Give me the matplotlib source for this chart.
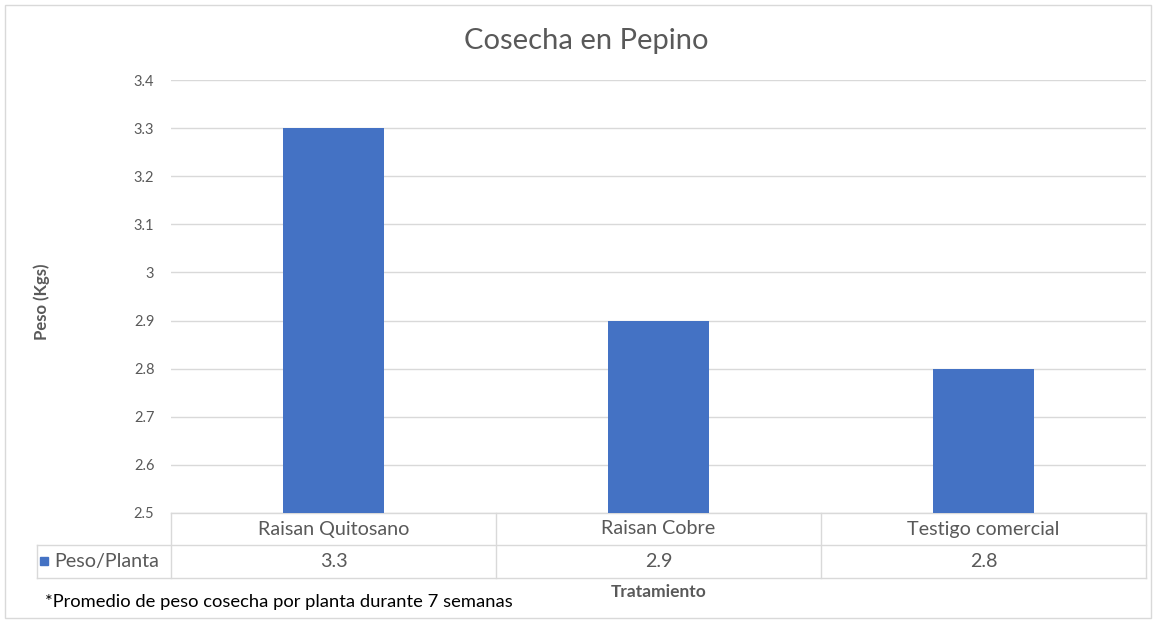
"""Cosecha en Pepino - bar chart with Excel-style data table."""

import matplotlib.pyplot as plt
from matplotlib.patches import Rectangle
import numpy as np

# data
categories = ['Raisan Quitosano', 'Raisan Cobre', 'Testigo comercial']
peso_planta = [3.3, 2.9, 2.8]
series_name = 'Peso/Planta'
y_ticks = [2.5, 2.6, 2.7, 2.8, 2.9, 3.0, 3.1, 3.2, 3.3, 3.4]
y_tick_labels = ['2.5', '2.6', '2.7', '2.8', '2.9', '3', '3.1', '3.2', '3.3', '3.4']

BAR = '#4472C4'
GRID = '#d9d9d9'
TXT = '#595959'

plt.rcParams['font.family'] = ['Lato', 'DejaVu Sans']

W, H = 1156, 623
fig = plt.figure(figsize=(W / 100, H / 100), dpi=100)

# plot area in pixels
left, right, top, bottom = 171, 1146, 80, 513
ax = fig.add_axes([left / W, 1 - bottom / H, (right - left) / W, (bottom - top) / H])

x = np.arange(len(categories))
ax.bar(x, peso_planta, width=0.31, color=BAR, zorder=3)
ax.set_xlim(-0.5, len(categories) - 0.5)
ax.set_ylim(y_ticks[0], y_ticks[-1])
ax.set_yticks(y_ticks)
ax.set_yticklabels(y_tick_labels, color=TXT, fontsize=10.5)
ax.tick_params(axis='y', length=0, pad=12)
ax.set_xticks([])
ax.grid(axis='y', color=GRID, linewidth=1, zorder=0)
for s in ax.spines.values():
    s.set_visible(False)

# data table below the axes
ax_h = bottom - top
ax_w = right - left
row1 = -(545 - bottom) / ax_h
row2 = -(578 - bottom) / ax_h
xleft = (37 - left) / ax_w
lk = dict(color=GRID, linewidth=1, transform=ax.transAxes, clip_on=False)

ax.plot([0, 1], [0, 0], **lk)
ax.plot([xleft, 1], [row1, row1], **lk)
ax.plot([xleft, 1], [row2, row2], **lk)
ax.plot([xleft, xleft], [row1, row2], **lk)
for i in range(len(categories) + 1):
    xf = i / len(categories)
    ax.plot([xf, xf], [0, row2], **lk)

for i, (cat, val) in enumerate(zip(categories, peso_planta)):
    xf = (i + 0.5) / len(categories)
    ax.text(xf, row1 / 2, cat, transform=ax.transAxes, ha='center', va='center',
            fontsize=14.2, color=TXT)
    ax.text(xf, (row1 + row2) / 2, f'{val:g}', transform=ax.transAxes,
            ha='center', va='center', fontsize=14.2, color=TXT)

# legend key in table
ax.add_patch(Rectangle(((40 - left) / ax_w, -(565 - bottom) / ax_h), 8 / ax_w, 8 / ax_h,
                       transform=ax.transAxes, clip_on=False, color=BAR))
ax.text((54 - left) / ax_w, (row1 + row2) / 2, series_name, transform=ax.transAxes,
        ha='left', va='center', fontsize=14.2, color=TXT)

# titles and labels
fig.text(586 / W, 1 - 41 / H, 'Cosecha en Pepino', ha='center', va='center',
         fontsize=21, color=TXT)
fig.text(42 / W, 1 - 302 / H, 'Peso (Kgs)', ha='center', va='center', rotation=90,
         fontsize=12, fontweight='bold', color=TXT)
fig.text(659 / W, 1 - 592 / H, 'Tratamiento', ha='center', va='center',
         fontsize=12.5, fontweight='bold', color=TXT)
fig.text(45 / W, 1 - 602 / H, '*Promedio de peso cosecha por planta durante 7 semanas',
         ha='left', va='center', fontsize=13.2, color='black')

# chart frame
fig.patches.append(Rectangle((5 / W, 1 - 618 / H), 1146 / W, 613 / H,
                             transform=fig.transFigure, fill=False,
                             edgecolor=GRID, linewidth=1))

fig.savefig('out.png', dpi=100)
